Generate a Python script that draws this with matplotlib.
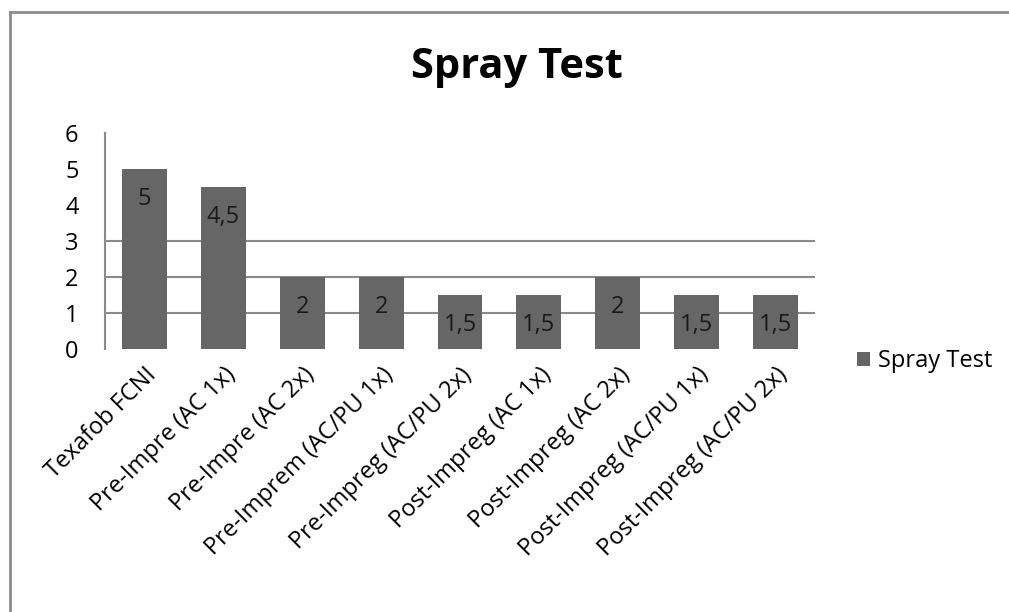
import numpy as np
import matplotlib.pyplot as plt
from matplotlib.lines import Line2D

categories = ['Texafob FCNI', 'Pre-Impre (AC 1x)', 'Pre-Impre (AC 2x)',
              'Pre-Imprem (AC/PU 1x)', 'Pre-Impreg (AC/PU 2x)',
              'Post-Impreg (AC 1x)', 'Post-Impreg (AC 2x)',
              'Post-Impreg (AC/PU 1x)', 'Post-Impreg (AC/PU 2x)']
values = [5, 4.5, 2, 2, 1.5, 1.5, 2, 1.5, 1.5]
value_labels = ['5', '4,5', '2', '2', '1,5', '1,5', '2', '1,5', '1,5']
yticks = [0, 1, 2, 3, 4, 5, 6]

plt.rcParams['font.family'] = ['Open Sans', 'DejaVu Sans']

W, H = 1009, 612
fig = plt.figure(figsize=(W / 100, H / 100), dpi=100)
ax = fig.add_axes([105 / W, 1 - 349 / H, 710 / W, 216 / H])

x = np.arange(len(categories))
bars = ax.bar(x, values, width=0.57, color='#666666', label='Spray Test', zorder=3)
ax.set_xlim(-0.5, len(categories) - 0.5)
ax.set_ylim(0, 6)

# only lower gridlines visible in reference
for g in [1, 2, 3]:
    ax.axhline(g, color='#8a8a8a', lw=1.5, zorder=1)

for b, lab in zip(bars, value_labels):
    ax.annotate(lab, (b.get_x() + b.get_width() / 2, b.get_height()),
                xytext=(0, -30), textcoords='offset pixels',
                ha='center', va='center', fontsize=17, color='#1a1a1a', zorder=4)

ax.set_yticks(yticks)
ax.set_yticklabels([str(t) for t in yticks], fontsize=17)
ax.set_xticks(x)
ax.set_xticklabels(categories, rotation=45, ha='right', rotation_mode='anchor',
                   fontsize=17)
ax.tick_params(length=0)
ax.tick_params(axis='y', pad=19)
ax.tick_params(axis='x', pad=10)

for s in ['top', 'right', 'bottom']:
    ax.spines[s].set_visible(False)
ax.spines['left'].set_color('#8a8a8a')
ax.spines['left'].set_linewidth(1.5)

fig.text(517 / W, 1 - 68 / H, 'Spray Test', ha='center', va='center',
         fontsize=30, fontweight='bold')

ax.legend(loc='center left', bbox_to_anchor=(857 / W, 1 - 361 / H),
          bbox_transform=fig.transFigure, frameon=False, fontsize=17,
          borderaxespad=0, borderpad=0,
          handlelength=0.55, handleheight=0.55, handletextpad=0.35)

# chart-area border (left and top edges visible)
fig.add_artist(Line2D([10 / W, 10 / W], [0, 1 - 12 / H], transform=fig.transFigure,
                      color='#8c8c8c', lw=2))
fig.add_artist(Line2D([10 / W, 1], [1 - 12 / H, 1 - 12 / H], transform=fig.transFigure,
                      color='#8c8c8c', lw=2))

fig.savefig('out.png', dpi=100)
